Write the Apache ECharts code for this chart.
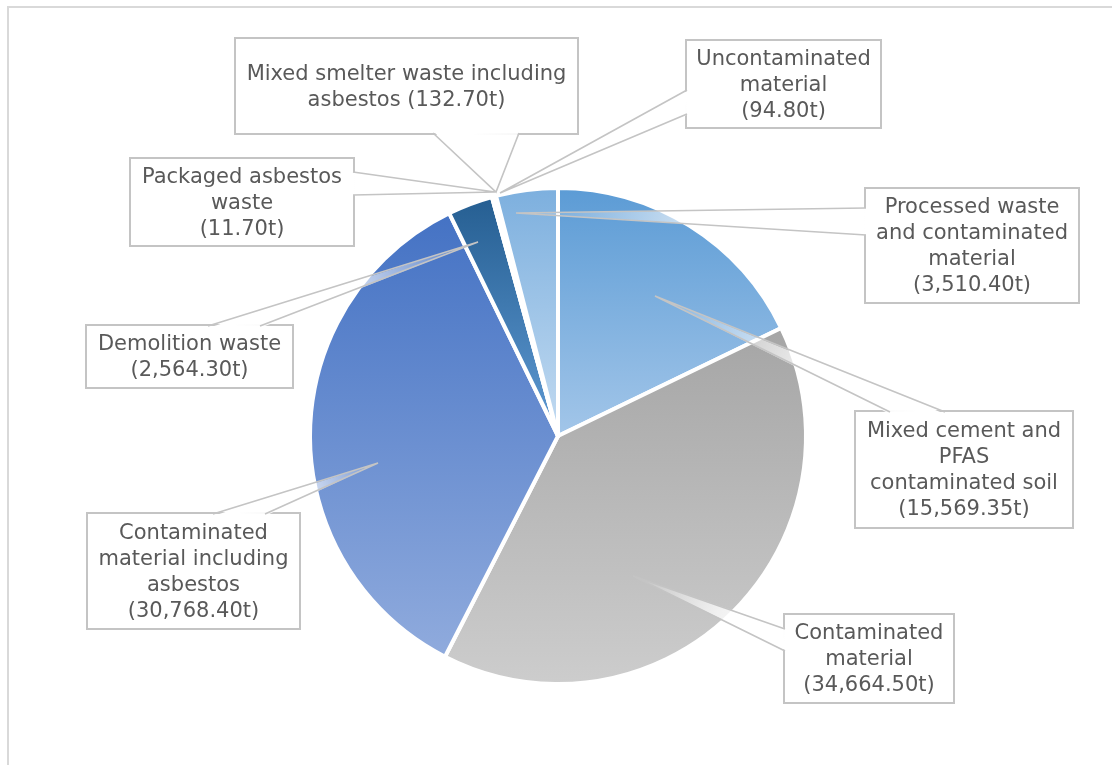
<!DOCTYPE html>
<html>
<head>
<meta charset="utf-8">
<script src="https://cdn.jsdelivr.net/npm/echarts@6/dist/echarts.min.js"></script>
<style>
  html, body { margin: 0; padding: 0; background: #ffffff; }
  #chart { width: 1112px; height: 765px; }
</style>
</head>
<body>
<div id="chart"></div>
<script>
// ---------------- data ----------------
const categories = [
  'Mixed cement and PFAS contaminated soil',
  'Contaminated material',
  'Contaminated material including asbestos',
  'Demolition waste',
  'Packaged asbestos waste',
  'Mixed smelter waste including asbestos',
  'Uncontaminated material',
  'Processed waste and contaminated material'
];
const tonnes = [15569.35, 34664.50, 30768.40, 2564.30, 11.70, 132.70, 94.80, 3510.40];
const unit = 't';

// ---------------- styling / layout (not data) ----------------
const sliceGradients = [
  ['#5b9bd5', '#a3c6e9'],
  ['#a5a5a5', '#cdcdcd'],
  ['#4472c4', '#90abdd'],
  ['#255e91', '#5f9ad4'],
  ['#264478', '#264478'],
  ['#636363', '#636363'],
  ['#9e480e', '#9e480e'],
  ['#7cafde', '#c3dbf1']
];
// how many words go on each wrapped line of a callout
const wordsPerLine = [[3,1,2,1],[1,1,1],[1,2,1,1],[2,1],[2,1,1],[4,2],[1,1,1],[2,2,1,1]];
// callout boxes: left, top, width, height (px)
const calloutBoxes = [
  [856, 412, 216, 115],
  [785, 615, 168, 87],
  [88, 514, 211, 114],
  [87, 326, 205, 61],
  [131, 159, 222, 86],
  [236, 39, 341, 94],
  [687, 41, 193, 86],
  [866, 189, 212, 113]
];
// wedge pointers: base point, tip, base point (px)
const calloutPointers = [
  [[890, 412], [655, 296], [945, 412]],
  [[785, 629], [633, 576], [785, 651]],
  [[213, 514], [378, 463], [265, 514]],
  [[208, 326], [478, 242], [260, 326]],
  [[353, 172], [495, 192], [353, 195]],
  [[433, 133], [496, 192], [519, 133]],
  [[687, 90], [500, 193], [687, 114]],
  [[866, 208], [516, 213], [866, 235]]
];
const LINE_H = 26;
const CALLOUT_GREY = '#c4c4c4';

function fmtValue(v) {
  return v.toLocaleString('en-US', { minimumFractionDigits: 2, maximumFractionDigits: 2 }) + unit;
}
function labelText(i) {
  const words = (categories[i] + ' (' + fmtValue(tonnes[i]) + ')').split(' ');
  const lines = [];
  let k = 0;
  wordsPerLine[i].forEach(n => { lines.push(words.slice(k, k + n).join(' ')); k += n; });
  return lines.join('\n');
}

const seriesData = categories.map((name, i) => {
  const box = calloutBoxes[i];
  const nLines = wordsPerLine[i].length;
  const padV = (box[3] - nLines * LINE_H) / 2;
  const g = sliceGradients[i];
  return {
    name: name,
    value: tonnes[i],
    itemStyle: {
      color: new echarts.graphic.LinearGradient(0, 0, 0, 1, [
        { offset: 0, color: g[0] },
        { offset: 1, color: g[1] }
      ])
    },
    label: {
      padding: [padV + 1.5, 4, padV - 1.5, 4],
      width: box[2] - 8
    }
  };
});

// wedge callout pointers drawn on top of the pie
function pointerGraphics() {
  const out = [];
  calloutPointers.forEach((pts, i) => {
    const box = calloutBoxes[i];
    const cx = box[0] + box[2] / 2, cy = box[1] + box[3] / 2;
    const b1 = pts[0].slice(), tip = pts[1], b2 = pts[2].slice();
    // push base points slightly into the box so the wedge opens into it
    if (b1[1] === b2[1]) { const d = cy > b1[1] ? 2 : -2; b1[1] += d; b2[1] += d; }
    else { const d = cx > b1[0] ? 2 : -2; b1[0] += d; b2[0] += d; }
    const mid = [(pts[0][0] + pts[2][0]) / 2, (pts[0][1] + pts[2][1]) / 2];
    out.push({
      type: 'polygon', silent: true, z: 20,
      shape: { points: [b1, tip, b2] },
      style: {
        fill: new echarts.graphic.LinearGradient(mid[0], mid[1], tip[0], tip[1], [
          { offset: 0, color: 'rgba(255,255,255,1)' },
          { offset: 0.45, color: 'rgba(255,255,255,0.75)' },
          { offset: 1, color: 'rgba(255,255,255,0)' }
        ], true),
        stroke: null
      }
    });
    out.push({
      type: 'polyline', silent: true, z: 21,
      shape: { points: [pts[0], tip, pts[2]] },
      style: { stroke: CALLOUT_GREY, lineWidth: 1.6, fill: null }
    });
  });
  return out;
}

const chart = echarts.init(document.getElementById('chart'), null, { renderer: 'canvas' });
chart.setOption({
  animation: false,
  backgroundColor: '#ffffff',
  textStyle: { fontFamily: 'DejaVu Sans' },
  graphic: [{
    type: 'polyline',
    silent: true,
    shape: { points: [[8, 765], [8, 7], [1112, 7]] },
    style: { stroke: '#d9d9d9', lineWidth: 2, fill: null }
  }].concat(pointerGraphics()),
  series: [{
    type: 'pie',
    center: [558, 436],
    radius: 248,
    startAngle: 90,
    clockwise: true,
    avoidLabelOverlap: false,
    emphasis: { disabled: true },
    itemStyle: { borderColor: '#ffffff', borderWidth: 4 },
    label: {
      show: true,
      position: 'outside',
      overflow: 'none',
      formatter: p => labelText(p.dataIndex),
      fontFamily: 'DejaVu Sans',
      fontSize: 21,
      lineHeight: LINE_H,
      color: '#595959',
      backgroundColor: '#ffffff',
      borderColor: CALLOUT_GREY,
      borderWidth: 2
    },
    labelLine: { show: false },
    labelLayout: function (p) {
      const box = calloutBoxes[p.dataIndex];
      return {
        x: box[0] + box[2] / 2,
        y: box[1],
        align: 'center',
        verticalAlign: 'top'
      };
    },
    data: seriesData
  }]
});
</script>
</body>
</html>
